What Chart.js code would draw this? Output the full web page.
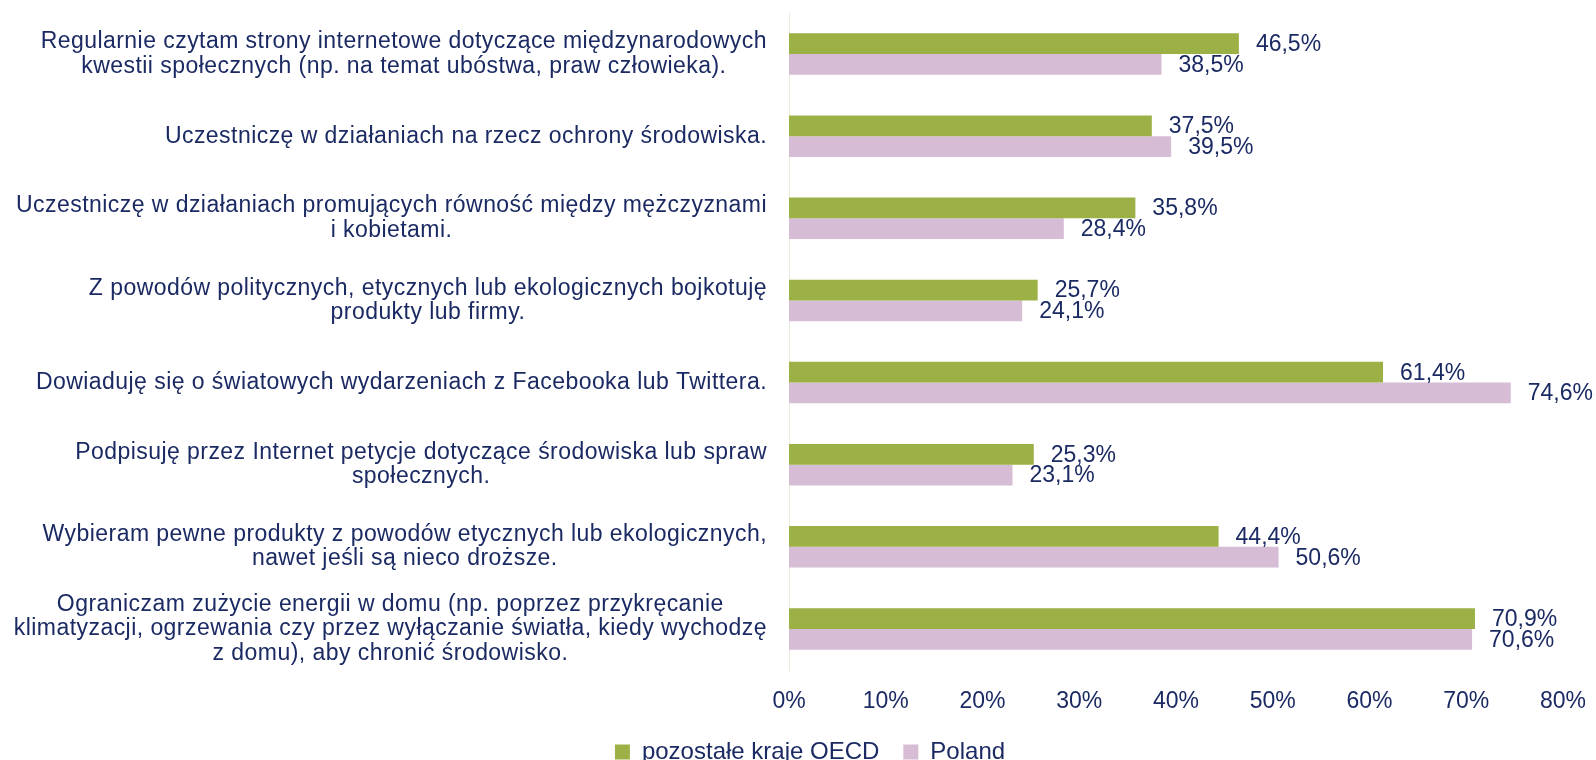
<!DOCTYPE html>
<html>
<head>
<meta charset="utf-8">
<script src="https://cdn.jsdelivr.net/npm/chart.js@4"></script>
<style>
  html, body { margin: 0; padding: 0; background: #fff; }
  #wrap { width: 1596px; height: 760px; }
</style>
</head>
<body>
<div id="wrap"><canvas id="chart" width="1596" height="760"></canvas></div>
<script>
const categories = [
    ['Regularnie czytam strony internetowe dotyczące międzynarodowych', 'kwestii społecznych (np. na temat ubóstwa, praw człowieka).'],
    ['Uczestniczę w działaniach na rzecz ochrony środowiska.'],
    ['Uczestniczę w działaniach promujących równość między mężczyznami', 'i kobietami.'],
    ['Z powodów politycznych, etycznych lub ekologicznych bojkotuję', 'produkty lub firmy.'],
    ['Dowiaduję się o światowych wydarzeniach z Facebooka lub Twittera.'],
    ['Podpisuję przez Internet petycje dotyczące środowiska lub spraw', 'społecznych.'],
    ['Wybieram pewne produkty z powodów etycznych lub ekologicznych,', 'nawet jeśli są nieco droższe.'],
    ['Ograniczam zużycie energii w domu (np. poprzez przykręcanie', 'klimatyzacji, ogrzewania czy przez wyłączanie światła, kiedy wychodzę', 'z domu), aby chronić środowisko.']
];
const oecdValues = [46.5, 37.5, 35.8, 25.7, 61.4, 25.3, 44.4, 70.9];
const polandValues = [38.5, 39.5, 28.4, 24.1, 74.6, 23.1, 50.6, 70.6];
const xTicks = [0, 10, 20, 30, 40, 50, 60, 70, 80];

const textColor = '#1b2a63';
const fontFamily = '"Liberation Sans", Arial, sans-serif';
const padLeft = 57;

// category labels: block right-aligned at the axis, lines centred inside the block
const categoryLabels = {
    id: 'categoryLabels',
    afterDraw(chart) {
        const ctx = chart.ctx;
        const y = chart.scales.y;
        const right = y.right - 22;
        const lineH = 24.5;
        ctx.save();
        ctx.font = '23px ' + fontFamily;
        ctx.letterSpacing = '0.45px';
        ctx.fillStyle = textColor;
        ctx.textAlign = 'center';
        ctx.textBaseline = 'middle';
        categories.forEach((lines, i) => {
            const w = Math.max(...lines.map(l => ctx.measureText(l).width));
            const cx = right - w / 2;
            const cy = y.getPixelForTick(i);
            lines.forEach((l, j) => {
                ctx.fillText(l, cx, cy + (j - (lines.length - 1) / 2) * lineH);
            });
        });
        ctx.letterSpacing = '0px';
        ctx.restore();
    }
};

// value labels at the end of each bar
const valueLabels = {
    id: 'valueLabels',
    afterDatasetsDraw(chart) {
        const ctx = chart.ctx;
        ctx.save();
        ctx.font = '23px ' + fontFamily;
        ctx.letterSpacing = '0px';
        ctx.fillStyle = textColor;
        ctx.textAlign = 'left';
        ctx.textBaseline = 'middle';
        chart.data.datasets.forEach((ds, di) => {
            chart.getDatasetMeta(di).data.forEach((bar, i) => {
                const txt = ds.data[i].toFixed(1).replace('.', ',') + '%';
                ctx.fillText(txt, bar.x + 17, bar.y + 1);
            });
        });
        ctx.restore();
    }
};

new Chart(document.getElementById('chart'), {
    type: 'bar',
    data: {
        labels: categories,
        datasets: [{
            label: 'pozostałe kraje OECD',
            data: oecdValues,
            backgroundColor: '#9bb045'
        }, {
            label: 'Poland',
            data: polandValues,
            backgroundColor: '#d6bcd5'
        }]
    },
    options: {
        indexAxis: 'y',
        responsive: false,
        animation: false,
        categoryPercentage: 0.506,
        barPercentage: 1,
        layout: { padding: { top: 13, right: 33, left: padLeft, bottom: -14 } },
        scales: {
            x: {
                min: 0,
                max: 80,
                afterBuildTicks(scale) {
                    scale.ticks = xTicks.map(v => ({ value: v }));
                },
                afterFit(scale) {
                    scale.height = 46;
                    scale.paddingLeft = 0;
                    scale.paddingRight = 0;
                },
                grid: { display: false, drawTicks: false },
                border: { display: false },
                ticks: {
                    padding: 18,
                    color: textColor,
                    font: { size: 23, family: fontFamily },
                    callback: v => v + '%'
                }
            },
            y: {
                grid: { display: false, drawTicks: false },
                border: { display: true, color: '#e9ecd8', width: 1 },
                ticks: { display: false },
                afterFit(scale) { scale.width = 789 - padLeft; }
            }
        },
        plugins: {
            legend: {
                position: 'bottom',
                labels: {
                    color: textColor,
                    font: { size: 24, family: fontFamily },
                    boxWidth: 15,
                    boxHeight: 15,
                    padding: 24
                }
            },
            tooltip: { enabled: false }
        }
    },
    plugins: [categoryLabels, valueLabels]
});
</script>
</body>
</html>
